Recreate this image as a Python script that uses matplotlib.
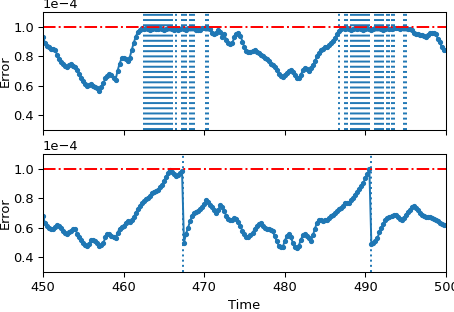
import numpy as np
import matplotlib
matplotlib.use("Agg")
import matplotlib.pyplot as plt
from matplotlib.ticker import MultipleLocator

# sampling of the error signal (units of 1e-4)
t_start = 450.0
dt = 0.25

err_fixed = [
    0.93, 0.89, 0.87, 0.86, 0.85, 0.85, 0.845, 0.81,
    0.78, 0.76, 0.75, 0.735, 0.725, 0.74, 0.75, 0.735,
    0.725, 0.71, 0.68, 0.65, 0.63, 0.61, 0.60, 0.605,
    0.61, 0.60, 0.59, 0.585, 0.565, 0.59, 0.62, 0.65,
    0.665, 0.68, 0.67, 0.65, 0.64, 0.70, 0.75, 0.785,
    0.79, 0.78, 0.765, 0.79, 0.84, 0.89, 0.93, 0.965,
    0.98, 0.99, 0.985, 0.99, 0.985, 0.98, 0.985, 0.99,
    0.985, 0.985, 0.99, 0.985, 0.98, 0.985, 0.99, 0.99,
    0.985, 0.98, 0.985, 0.98, 0.985, 0.99, 0.985, 0.98,
    0.99, 0.995, 1.0, 0.99, 0.98, 0.975, 0.98, 0.99,
    0.995, 0.995, 0.99, 0.985, 0.96, 0.95, 0.96, 0.975,
    0.965, 0.93, 0.95, 0.91, 0.89, 0.88, 0.89, 0.93,
    0.95, 0.96, 0.94, 0.90, 0.86, 0.835, 0.83, 0.83,
    0.835, 0.84, 0.83, 0.82, 0.81, 0.80, 0.79, 0.78,
    0.765, 0.75, 0.74, 0.73, 0.71, 0.68, 0.665, 0.66,
    0.675, 0.69, 0.70, 0.705, 0.695, 0.67, 0.655, 0.65,
    0.675, 0.705, 0.72, 0.715, 0.70, 0.72, 0.74, 0.765,
    0.80, 0.82, 0.84, 0.85, 0.86, 0.865, 0.875, 0.89,
    0.905, 0.925, 0.95, 0.97, 0.985, 0.99, 0.985, 0.99,
    0.985, 0.98, 0.985, 0.99, 0.985, 0.99, 0.985, 0.98,
    0.985, 0.99, 0.985, 0.98, 0.985, 0.99, 0.995, 0.99,
    0.985, 0.98, 0.985, 0.99, 0.985, 0.985, 0.99, 0.995,
    0.99, 0.985, 0.99, 0.995, 0.99, 0.985, 0.985, 0.975,
    0.96, 0.95, 0.95, 0.945, 0.945, 0.935, 0.93, 0.945,
    0.955, 0.96, 0.96, 0.95, 0.92, 0.895, 0.86, 0.845,
    0.84,
]

err_reset = [
    0.68, 0.63, 0.61, 0.60, 0.595, 0.59, 0.605, 0.62,
    0.615, 0.60, 0.58, 0.565, 0.555, 0.57, 0.58, 0.59,
    0.59, 0.56, 0.535, 0.515, 0.50, 0.485, 0.475, 0.49,
    0.515, 0.52, 0.51, 0.495, 0.475, 0.485, 0.50, 0.535,
    0.555, 0.555, 0.545, 0.535, 0.53, 0.565, 0.595, 0.605,
    0.61, 0.635, 0.645, 0.64, 0.65, 0.67, 0.70, 0.725,
    0.745, 0.765, 0.78, 0.795, 0.805, 0.815, 0.835, 0.845,
    0.85, 0.855, 0.875, 0.89, 0.915, 0.945, 0.97, 0.99,
    0.98, 0.965, 0.95, 0.955, 0.97, 0.985, 0.50, 0.56,
    0.60, 0.645, 0.68, 0.70, 0.71, 0.715, 0.725, 0.74,
    0.76, 0.785, 0.775, 0.755, 0.74, 0.72, 0.70, 0.72,
    0.755, 0.74, 0.715, 0.68, 0.66, 0.65, 0.655, 0.665,
    0.66, 0.64, 0.61, 0.58, 0.555, 0.535, 0.535, 0.55,
    0.565, 0.59, 0.61, 0.625, 0.63, 0.615, 0.60, 0.595,
    0.59, 0.585, 0.575, 0.545, 0.51, 0.48, 0.47, 0.47,
    0.51, 0.545, 0.555, 0.535, 0.50, 0.47, 0.465, 0.48,
    0.52, 0.55, 0.555, 0.545, 0.53, 0.51, 0.55, 0.595,
    0.635, 0.65, 0.655, 0.645, 0.65, 0.655, 0.665, 0.68,
    0.69, 0.70, 0.715, 0.725, 0.735, 0.745, 0.765, 0.77,
    0.77, 0.785, 0.805, 0.825, 0.84, 0.865, 0.885, 0.905,
    0.935, 0.965, 1.0, 0.49, 0.495, 0.51, 0.53, 0.57,
    0.60, 0.625, 0.65, 0.665, 0.675, 0.68, 0.685, 0.685,
    0.675, 0.66, 0.65, 0.665, 0.685, 0.705, 0.72, 0.74,
    0.745, 0.735, 0.72, 0.70, 0.685, 0.68, 0.675, 0.675,
    0.67, 0.665, 0.66, 0.655, 0.645, 0.635, 0.625, 0.62,
    0.62,
]

# times flagged as above threshold (top) and reset times (bottom)
flag_times = [
    462.5, 462.75, 463.0, 463.25, 463.5, 463.75, 464.0, 464.25,
    464.5, 464.75, 465.0, 465.25, 465.5, 465.75, 466.0,
    466.5, 467.25, 467.5, 467.75, 468.25, 468.5, 468.75, 470.25, 470.5,
    486.75, 487.5, 487.75, 488.25, 488.5, 488.75, 489.0, 489.25,
    489.5, 489.75, 490.0, 490.25, 490.5, 491.25, 491.5, 491.75,
    492.0, 492.25, 492.75, 493.0, 493.25, 493.5, 494.75, 495.0,
]
reset_times = [467.4, 490.7]

threshold = 1e-4
scale = 1e-4

time = t_start + dt * np.arange(len(err_fixed))

dpi = 94
fig, axes = plt.subplots(2, 1, sharex=True, figsize=(455 / dpi, 312 / dpi), dpi=dpi)
fig.subplots_adjust(left=0.0945, right=0.980, top=0.9615, bottom=0.128, hspace=0.203)

for ax, err, marks in [(axes[0], err_fixed, flag_times), (axes[1], err_reset, reset_times)]:
    ax.plot(time, np.array(err) * scale, '.-', color='C0')
    ax.axhline(threshold, color='r', linestyle='-.')
    for tm in marks:
        ax.axvline(tm, color='C0', linestyle=':')
    ax.set_ylim(0.3e-4, 1.1e-4)
    ax.yaxis.set_major_locator(MultipleLocator(0.2e-4))
    ax.ticklabel_format(axis='y', style='sci', scilimits=(0, 0))
    ax.set_ylabel('Error', labelpad=1)

axes[1].set_xlim(450, 500)
axes[1].set_xlabel('Time')

fig.savefig('out.png', dpi=dpi)
